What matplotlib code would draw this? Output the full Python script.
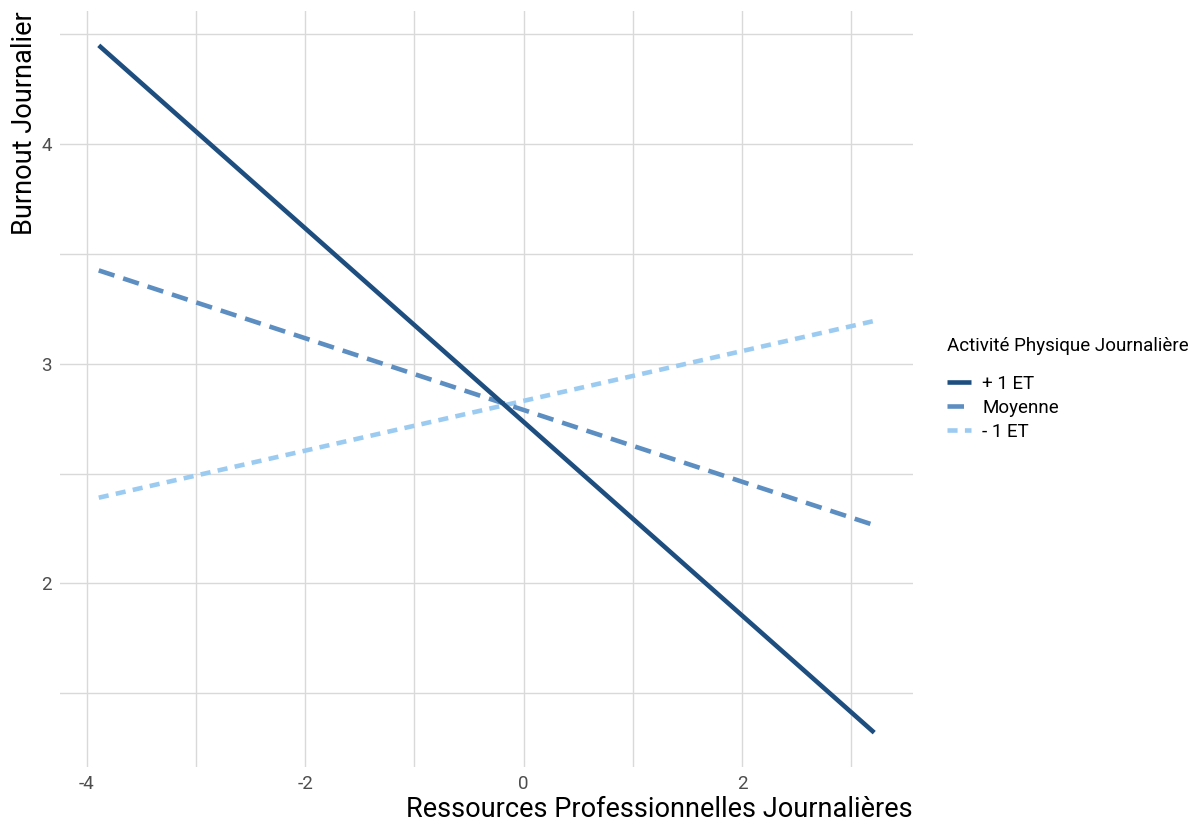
import matplotlib
matplotlib.use("Agg")
import matplotlib.pyplot as plt
import numpy as np

plt.rcParams['font.family'] = ['Roboto', 'DejaVu Sans']
plt.rcParams['axes.unicode_minus'] = False

# simple slopes: endpoints of each line (x = ressources, y = burnout)
x_range = [-3.89, 3.21]
groups = ["+ 1 ET", "Moyenne", "- 1 ET"]
y_plus = [4.45, 1.32]
y_moy = [3.425, 2.265]
y_minus = [2.39, 3.195]

colors = {"+ 1 ET": "#1d4e7f", "Moyenne": "#5c8ec2", "- 1 ET": "#9ccbf2"}
styles = {"+ 1 ET": "-", "Moyenne": (0, (3.6, 2.0)), "- 1 ET": (0, (2.2, 1.6))}
values = {"+ 1 ET": y_plus, "Moyenne": y_moy, "- 1 ET": y_minus}

fig = plt.figure(figsize=(11.99, 8.25), dpi=100)
ax = fig.add_axes([60 / 1199, 1 - 767 / 825, (913 - 60) / 1199, (767 - 11) / 825])

handles = {}
for g in reversed(groups):
    ln, = ax.plot(x_range, values[g], color=colors[g], linestyle=styles[g],
                  linewidth=3.3, solid_capstyle='butt', dash_capstyle='butt', label=g)
    handles[g] = ln

ax.margins(x=0.05, y=0.05)
ax.set_xticks([-4, -2, 0, 2])
ax.set_xticks([-3, -1, 1, 3], minor=True)
ax.set_yticks([2, 3, 4])
ax.set_yticks([1.5, 2.5, 3.5, 4.5], minor=True)
ax.grid(True, which='both', color='#d9d9d9', linewidth=1.0)
ax.set_axisbelow(True)
for s in ax.spines.values():
    s.set_visible(False)
ax.tick_params(which='both', length=0, labelsize=13.5, labelcolor='#4d4d4d', pad=6)

ax.set_xlabel("Ressources Professionnelles Journalières", loc='right', fontsize=19.5, labelpad=2)
ax.set_ylabel("Burnout Journalier", loc='top', fontsize=19.5, labelpad=2)

leg = fig.legend([handles[g] for g in groups], groups, title="Activité Physique Journalière",
                 loc='center left', bbox_to_anchor=(930 / 1199, 1 - 389 / 825),
                 frameon=False, fontsize=13.5, title_fontsize=13.5, handlelength=1.3,
                 handletextpad=0.6, labelspacing=0.32, alignment='left')
leg._legend_box.sep = 14

fig.savefig("out.png", dpi=100, facecolor='white')
